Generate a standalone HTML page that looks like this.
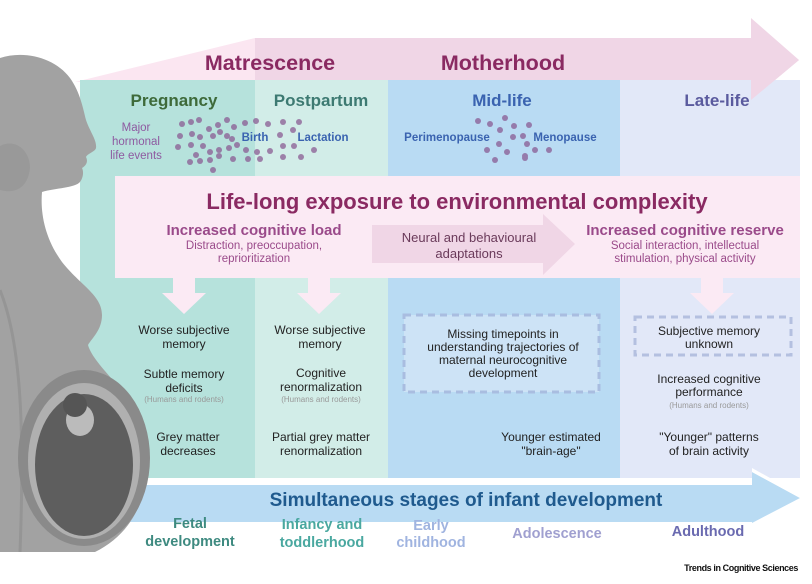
<!DOCTYPE html>
<html><head><meta charset="utf-8"><style>
html,body{margin:0;padding:0;background:#fff;}
svg{display:block;font-family:"Liberation Sans",sans-serif;}
</style></head><body>
<svg width="812" height="584" viewBox="0 0 812 584">
<!-- top band -->
<polygon points="75,82 255,38 255,80 75,82" fill="#fbe6f1"/>
<rect x="255" y="38" width="500" height="42" fill="#f0d6e6"/>
<polygon points="751,18 799,60 751,100" fill="#f0d6e6"/>
<!-- columns -->
<rect x="80" y="80" width="175" height="398" fill="#b6e2dc"/>
<rect x="255" y="80" width="133" height="398" fill="#d2ede8"/>
<rect x="388" y="80" width="232" height="398" fill="#b9dbf3"/>
<rect x="620" y="80" width="180" height="398" fill="#e2e8f8"/>
<polygon points="751,60 799,60 751,100" fill="#f0d6e6"/>
<!-- pink box -->
<rect x="115" y="176" width="685" height="102" fill="#fbeaf4"/>
<!-- middle arrow -->
<polygon points="372,225 543,225 543,214 575,244 543,275 543,263 372,263" fill="#f0d6e6"/>
<!-- down arrows -->
<polygon points="173,278 195,278 195,293 206,293 184,314 162,293 173,293" fill="#fbeaf4"/>
<polygon points="308,278 330,278 330,293 341,293 319,314 297,293 308,293" fill="#fbeaf4"/>
<polygon points="701,278 723,278 723,293 734,293 712,314 690,293 701,293" fill="#fbeaf4"/>
<!-- dashed boxes -->
<rect x="404" y="315" width="195" height="77" fill="#cde3f6" stroke="#a9bde0" stroke-width="3" stroke-dasharray="7,5"/>
<rect x="635" y="317" width="156" height="38" fill="#e2e8f8" stroke="#b4c0e0" stroke-width="3" stroke-dasharray="7,5"/>
<!-- bottom arrow -->
<rect x="80" y="478" width="720" height="8" fill="#fff"/>
<polygon points="120,485 752,485 752,472 800,498 752,523 752,522 120,522" fill="#b9dbf3"/>
<polygon points="752,468 752,472 800,498 806,498" fill="#fff"/>
<!-- silhouette -->
<path d="M0,58 C25,50 55,58 70,78 C80,92 83,108 86,120 C90,132 97,140 96,148 C95,152 88,153 86,157 C88,161 87,165 82,168 C84,172 83,178 80,182 C75,188 55,188 42,192 C40,215 46,240 62,262 C80,285 102,295 102,315 C102,330 92,338 88,345 C95,370 145,400 148,450 C150,500 130,535 95,552 L0,552 Z" fill="#a2a2a2"/>
<path d="M0,146 C15,138 30,150 30,168 C28,188 15,194 0,190 Z" fill="#999"/>
<path d="M0,290 C20,340 25,420 20,552" stroke="#959595" stroke-width="3" fill="none"/>
<ellipse cx="84" cy="458" rx="66" ry="88" fill="#8a8a8a"/>
<ellipse cx="84" cy="461" rx="56" ry="78" fill="#b0b0b0"/>
<ellipse cx="84" cy="465" rx="49" ry="71" fill="#5e5e5e"/>
<ellipse cx="80" cy="420" rx="14" ry="16" fill="#bbb"/>
<circle cx="75" cy="405" r="12" fill="#555"/>
<!-- dots -->
<g fill="#8a5c93" opacity="0.75">
<circle cx="182" cy="124" r="3"/><circle cx="191" cy="122" r="3"/><circle cx="199" cy="120" r="3"/><circle cx="209" cy="129" r="3"/><circle cx="218" cy="125" r="3"/><circle cx="227" cy="120" r="3"/><circle cx="234" cy="127" r="3"/><circle cx="245" cy="123" r="3"/><circle cx="256" cy="121" r="3"/><circle cx="268" cy="124" r="3"/><circle cx="283" cy="122" r="3"/><circle cx="299" cy="122" r="3"/>
<circle cx="180" cy="136" r="3"/><circle cx="192" cy="134" r="3"/><circle cx="200" cy="137" r="3"/><circle cx="213" cy="136" r="3"/><circle cx="220" cy="132" r="3"/><circle cx="227" cy="136" r="3"/><circle cx="232" cy="139" r="3"/><circle cx="237" cy="145" r="3"/><circle cx="280" cy="135" r="3"/><circle cx="293" cy="130" r="3"/>
<circle cx="178" cy="147" r="3"/><circle cx="191" cy="145" r="3"/><circle cx="203" cy="146" r="3"/><circle cx="210" cy="152" r="3"/><circle cx="219" cy="150" r="3"/><circle cx="229" cy="148" r="3"/><circle cx="246" cy="150" r="3"/><circle cx="257" cy="152" r="3"/><circle cx="270" cy="151" r="3"/><circle cx="283" cy="146" r="3"/><circle cx="294" cy="146" r="3"/><circle cx="314" cy="150" r="3"/>
<circle cx="196" cy="155" r="3"/><circle cx="219" cy="156" r="3"/><circle cx="200" cy="161" r="3"/><circle cx="190" cy="162" r="3"/><circle cx="210" cy="160" r="3"/><circle cx="233" cy="159" r="3"/><circle cx="248" cy="159" r="3"/><circle cx="260" cy="159" r="3"/><circle cx="283" cy="157" r="3"/><circle cx="301" cy="157" r="3"/><circle cx="213" cy="170" r="3"/>
<circle cx="478" cy="121" r="3"/><circle cx="490" cy="124" r="3"/><circle cx="505" cy="118" r="3"/><circle cx="514" cy="126" r="3"/><circle cx="529" cy="125" r="3"/><circle cx="500" cy="130" r="3"/><circle cx="513" cy="137" r="3"/><circle cx="523" cy="136" r="3"/><circle cx="527" cy="144" r="3"/><circle cx="499" cy="144" r="3"/><circle cx="487" cy="150" r="3"/><circle cx="507" cy="152" r="3"/><circle cx="525" cy="156" r="3"/><circle cx="535" cy="150" r="3"/><circle cx="549" cy="150" r="3"/><circle cx="495" cy="160" r="3"/><circle cx="525" cy="158" r="3"/>
</g>
<!-- titles -->
<g font-weight="bold" fill="#8a2a62" text-anchor="middle">
<text x="270" y="70" font-size="21.5">Matrescence</text>
<text x="503" y="70" font-size="21.5">Motherhood</text>
<text x="457" y="209" font-size="22">Life-long exposure to environmental complexity</text>
</g>
<g font-weight="bold" font-size="17" text-anchor="middle">
<text x="174" y="106" fill="#3e6a3a">Pregnancy</text>
<text x="321" y="106" fill="#3d7a72">Postpartum</text>
<text x="502" y="106" fill="#3a63b0">Mid-life</text>
<text x="717" y="106" fill="#5a5a9e">Late-life</text>
</g>
<g font-size="11.5" fill="#8e5aa0" text-anchor="middle">
<text x="136" y="131">Major</text><text x="136" y="145">hormonal</text><text x="136" y="159">life events</text>
</g>
<g font-size="11.5" font-weight="bold" fill="#3a63b0" text-anchor="middle">
<text x="255" y="141">Birth</text><text x="323" y="141">Lactation</text>
<text x="447" y="141">Perimenopause</text><text x="565" y="141">Menopause</text>
</g>
<g text-anchor="middle">
<text x="254" y="235" font-size="15" font-weight="bold" fill="#9a4a8a">Increased cognitive load</text>
<text x="254" y="249" font-size="11.5" fill="#9a4a8a">Distraction,  preoccupation,</text>
<text x="254" y="262" font-size="11.5" fill="#9a4a8a">reprioritization</text>
<text x="685" y="235" font-size="15" font-weight="bold" fill="#9a4a8a">Increased cognitive reserve</text>
<text x="685" y="249" font-size="11.5" fill="#9a4a8a">Social interaction, intellectual</text>
<text x="685" y="262" font-size="11.5" fill="#9a4a8a">stimulation, physical activity</text>
<text x="469" y="242" font-size="13" fill="#6a3a5a">Neural and behavioural</text>
<text x="469" y="258" font-size="13" fill="#6a3a5a">adaptations</text>
</g>
<g font-size="12" fill="#222" text-anchor="middle">
<text x="184" y="334">Worse subjective</text><text x="184" y="348">memory</text>
<text x="184" y="378">Subtle memory</text><text x="184" y="392">deficits</text>
<text x="188" y="441">Grey matter</text><text x="188" y="455">decreases</text>
<text x="320" y="334">Worse subjective</text><text x="320" y="348">memory</text>
<text x="321" y="377">Cognitive</text><text x="321" y="391">renormalization</text>
<text x="321" y="441">Partial grey matter</text><text x="321" y="455">renormalization</text>
<text x="503" y="338">Missing timepoints in</text><text x="503" y="351">understanding trajectories of</text><text x="503" y="364">maternal neurocognitive</text><text x="503" y="377">development</text>
<text x="551" y="441">Younger estimated</text><text x="551" y="455">"brain-age"</text>
<text x="709" y="335">Subjective memory</text><text x="709" y="348">unknown</text>
<text x="709" y="383">Increased cognitive</text><text x="709" y="396">performance</text>
<text x="709" y="441">"Younger" patterns</text><text x="709" y="455">of brain activity</text>
</g>
<g font-size="8" fill="#999" text-anchor="middle">
<text x="184" y="402">(Humans and rodents)</text>
<text x="321" y="402">(Humans and rodents)</text>
<text x="709" y="408">(Humans and rodents)</text>
</g>
<text x="466" y="506" font-size="19" font-weight="bold" fill="#1f5a8e" text-anchor="middle">Simultaneous stages of infant development</text>
<g font-size="14.5" font-weight="bold" text-anchor="middle">
<text x="190" y="528" fill="#3e8a80">Fetal</text><text x="190" y="546" fill="#3e8a80">development</text>
<text x="322" y="529" fill="#4aa8a0">Infancy and</text><text x="322" y="547" fill="#4aa8a0">toddlerhood</text>
<text x="431" y="530" fill="#a0b4e0">Early</text><text x="431" y="547" fill="#a0b4e0">childhood</text>
<text x="557" y="538" fill="#a0a0d0">Adolescence</text>
<text x="708" y="536" fill="#6a6ab0">Adulthood</text>
</g>
<text x="798" y="571" font-size="9" font-weight="bold" fill="#111" text-anchor="end" letter-spacing="-0.4">Trends in Cognitive Sciences</text>
</svg>
</body></html>
